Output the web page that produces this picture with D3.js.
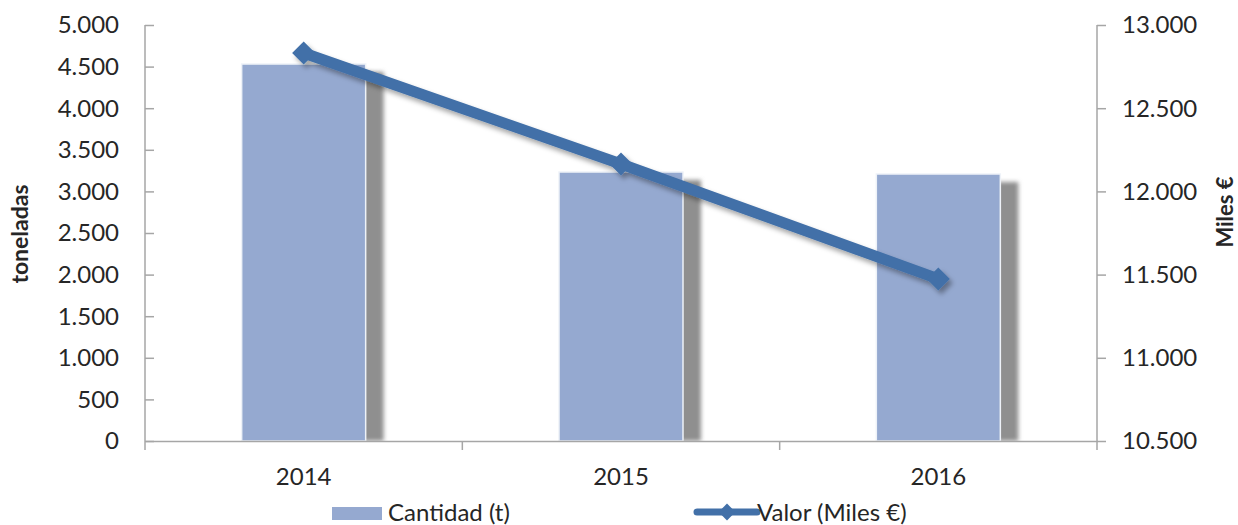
<!DOCTYPE html>
<html>
<head>
<meta charset="utf-8">
<title>Cantidad y valor</title>
<script src="https://d3js.org/d3.v7.min.js"></script>
<style>
  body { margin: 0; background: #fff; }
  text { font-family: "Lato", "Liberation Sans", sans-serif; fill: #262626; }
</style>
</head>
<body>
<div id="chart"></div>
<script>
// data
var years = ["2014", "2015", "2016"];
var cantidad = [4531, 3233, 3209];      // toneladas
var valor = [12832, 12165, 11474];      // miles de euros
var leftTicks = [0, 500, 1000, 1500, 2000, 2500, 3000, 3500, 4000, 4500, 5000];
var rightTicks = [10500, 11000, 11500, 12000, 12500, 13000];

var width = 1238, height = 525;
var margin = {top: 25, right: 141, bottom: 84, left: 145};
var innerW = width - margin.left - margin.right,
    innerH = height - margin.top - margin.bottom;

var fmt = function(d) { return d3.format(",")(d).replace(/,/g, "."); };
var fs = "24px";

var svg = d3.select("#chart").append("svg")
    .attr("width", width)
    .attr("height", height);

var defs = svg.append("defs");
defs.append("filter").attr("id", "blur")
    .attr("x", "-50%").attr("width", "200%")
  .append("feGaussianBlur").attr("stdDeviation", 2);
var ls = defs.append("filter").attr("id", "lineShadow")
    .attr("x", "-10%").attr("y", "-20%").attr("width", "120%").attr("height", "140%");
ls.append("feDropShadow").attr("dx", 3).attr("dy", 4).attr("stdDeviation", 2.5)
    .attr("flood-color", "#000").attr("flood-opacity", 0.35);

var g = svg.append("g").attr("transform", "translate(" + margin.left + "," + margin.top + ")");

var x = d3.scaleBand().domain(years).range([0, innerW]);
var y = d3.scaleLinear().domain([0, 5000]).range([innerH, 0]);
var y2 = d3.scaleLinear().domain([10500, 13000]).range([innerH, 0]);

var barW = 124;

// bar shadows
g.selectAll(".shadow").data(years).enter().append("rect")
    .attr("x", function(d) { return x(d) + x.bandwidth() / 2 - barW / 2 + 15; })
    .attr("y", function(d, i) { return y(cantidad[i]) + 8; })
    .attr("width", barW + 3)
    .attr("height", function(d, i) { return innerH - y(cantidad[i]) - 8; })
    .attr("fill", "#8f8f8f")
    .attr("filter", "url(#blur)");

// bars
g.selectAll(".bar").data(years).enter().append("rect")
    .attr("x", function(d) { return x(d) + x.bandwidth() / 2 - barW / 2; })
    .attr("y", function(d, i) { return y(cantidad[i]); })
    .attr("width", barW)
    .attr("height", function(d, i) { return innerH - y(cantidad[i]); })
    .attr("fill", "#95a9d0")
    .attr("stroke", "#eef2f8")
    .attr("stroke-width", 1.5);

// white strip hiding shadow below baseline
g.append("rect").attr("x", -5).attr("y", innerH + 1).attr("width", innerW + 10).attr("height", 12).attr("fill", "#fff");

// axes
var axisColor = "#a6a6a6";
var left = g.append("g")
    .call(d3.axisRight(y).tickValues(leftTicks).tickSize(9).tickFormat(""));
var right = g.append("g").attr("transform", "translate(" + innerW + ",0)")
    .call(d3.axisRight(y2).tickValues(rightTicks).tickSize(9).tickFormat(""));
var bottom = g.append("g").attr("transform", "translate(0," + innerH + ")")
    .call(d3.axisBottom(x).tickSize(0).tickFormat(""));
[left, right, bottom].forEach(function(a) {
  a.selectAll("line").attr("stroke", axisColor).attr("stroke-width", 1.5);
  a.select(".domain").attr("stroke", axisColor).attr("stroke-width", 1.5);
});
left.select(".domain").attr("d", "M0,0V" + (innerH + 9));
right.select(".domain").attr("d", "M0,0V" + (innerH + 9));
// category separators
g.selectAll(".sep").data(years.slice(1)).enter().append("line")
    .attr("x1", function(d) { return x(d); }).attr("x2", function(d) { return x(d); })
    .attr("y1", innerH).attr("y2", innerH + 9)
    .attr("stroke", axisColor).attr("stroke-width", 1.5);

// tick labels
g.selectAll(".lt").data(leftTicks).enter().append("text")
    .attr("x", -26).attr("y", function(d) { return y(d); })
    .attr("dy", "0.35em").attr("text-anchor", "end")
    .style("font-size", fs).text(fmt);
g.selectAll(".rt").data(rightTicks).enter().append("text")
    .attr("x", innerW + 25).attr("y", function(d) { return y2(d); })
    .attr("dy", "0.35em").attr("text-anchor", "start")
    .style("font-size", fs).text(fmt);
g.selectAll(".xt").data(years).enter().append("text")
    .attr("x", function(d) { return x(d) + x.bandwidth() / 2; })
    .attr("y", innerH + 36).attr("dy", "0.35em").attr("text-anchor", "middle")
    .style("font-size", fs).text(function(d) { return d; });

// axis titles
svg.append("text")
    .attr("transform", "translate(28,234) rotate(-90)")
    .attr("text-anchor", "middle").style("font-size", "23px").style("font-weight", "bold")
    .text("toneladas");
svg.append("text")
    .attr("transform", "translate(1233,212) rotate(-90)")
    .attr("text-anchor", "middle").style("font-size", "22px").style("font-weight", "bold")
    .text("Miles €");

// line
var lineColor = "#4270a8";
var lineG = g.append("g").attr("filter", "url(#lineShadow)");
var line = d3.line()
    .x(function(d, i) { return x(years[i]) + x.bandwidth() / 2; })
    .y(function(d) { return y2(d); });
lineG.append("path").datum(valor)
    .attr("d", line)
    .attr("fill", "none")
    .attr("stroke", lineColor)
    .attr("stroke-width", 11);
var diamond = d3.symbol().type(d3.symbolDiamond2).size(340);
lineG.selectAll(".pt").data(valor).enter().append("path")
    .attr("d", diamond)
    .attr("transform", function(d, i) {
      return "translate(" + (x(years[i]) + x.bandwidth() / 2) + "," + y2(d) + ")";
    })
    .attr("fill", lineColor);

// legend
var leg = svg.append("g");
leg.append("rect").attr("x", 332).attr("y", 507).attr("width", 50).attr("height", 13).attr("fill", "#95a9d0");
leg.append("text").attr("x", 388).attr("y", 513).attr("dy", "0.35em")
    .style("font-size", fs).text("Cantidad (t)");
leg.append("line").attr("x1", 697).attr("x2", 757).attr("y1", 512).attr("y2", 512)
    .attr("stroke", lineColor).attr("stroke-width", 7).attr("stroke-linecap", "round");
leg.append("path").attr("d", d3.symbol().type(d3.symbolDiamond2).size(180))
    .attr("transform", "translate(727,512)").attr("fill", lineColor);
leg.append("text").attr("x", 757).attr("y", 513).attr("dy", "0.35em")
    .style("font-size", fs).text("Valor (Miles €)");
</script>
</body>
</html>
